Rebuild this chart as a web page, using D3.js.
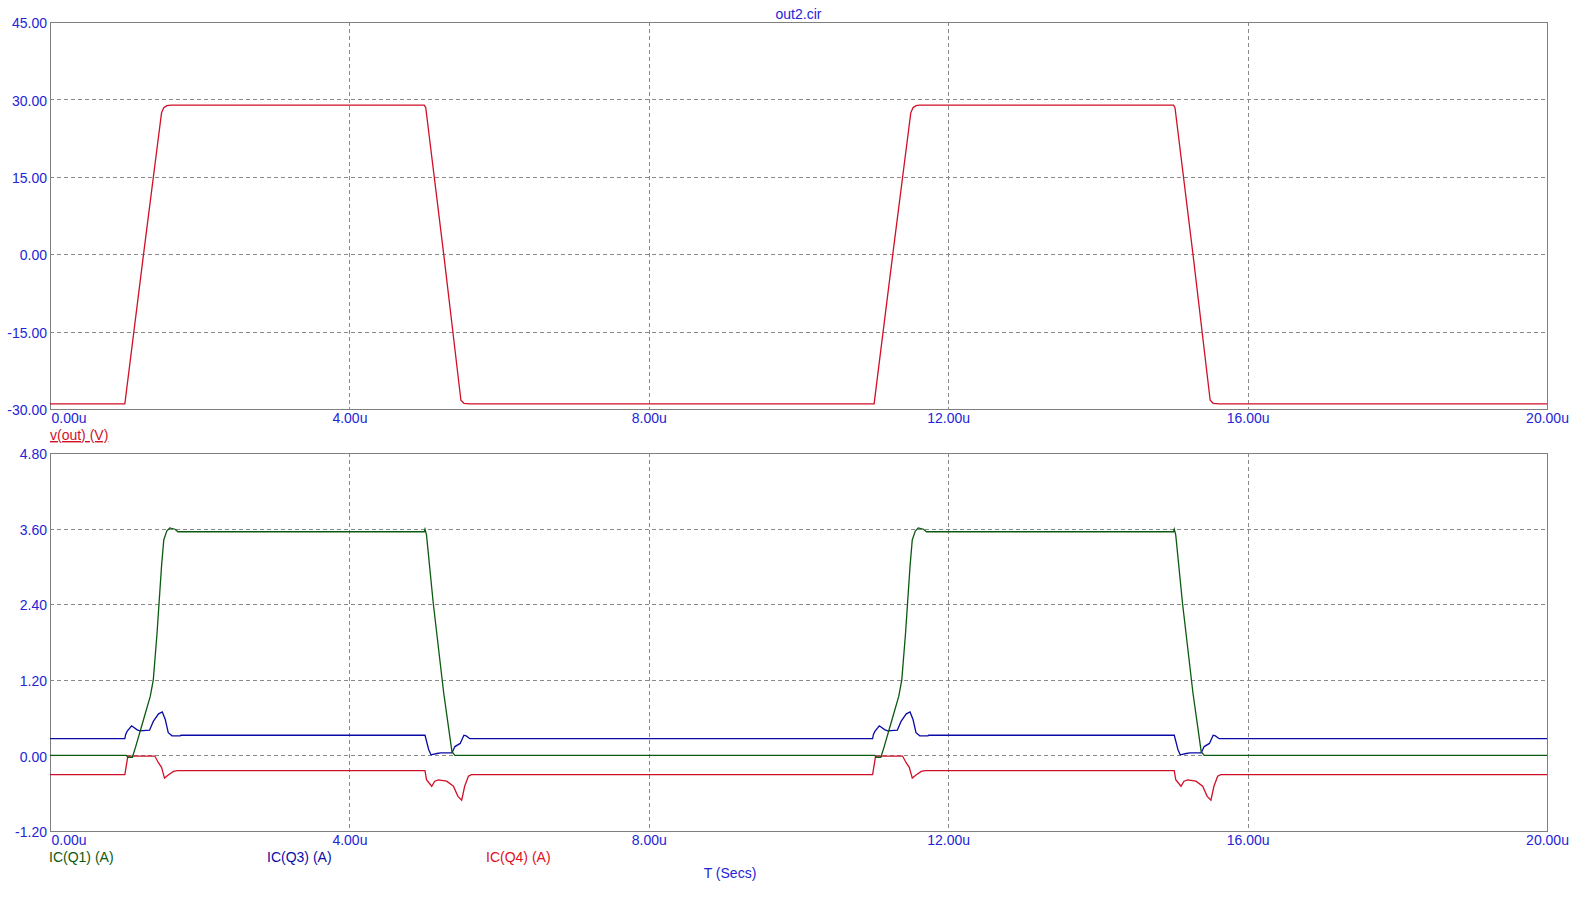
<!DOCTYPE html>
<html>
<head>
<meta charset="utf-8">
<script src="https://cdn.jsdelivr.net/npm/d3@7"></script>
<style>
  html, body { margin: 0; padding: 0; background: #fff; }
  svg { display: block; font-family: "Liberation Sans", Arial, sans-serif; }
</style>
</head>
<body>
<svg id="chart" width="1587" height="897"></svg>
<script>
// ---- data (time in µs) ----
const title = "out2.cir";
const xTickValues = [0, 4, 8, 12, 16, 20];
const topYTicks = [-30, -15, 0, 15, 30, 45];
const bottomYTicks = [-1.2, 0, 1.2, 2.4, 3.6, 4.8];
const topLabel = "v(out) (V)";
const bottomLabels = ["IC(Q1) (A)", "IC(Q3) (A)", "IC(Q4) (A)"];
const xLabel = "T (Secs)";

const voutPoints = [
  [0,-29.0],[1.00,-29.0],[1.25,0.0],[1.49,27.4],[1.52,28.4],[1.56,28.8],[1.62,28.9],
  [5.00,28.9],[5.02,28.4],[5.26,0.0],[5.49,-28.3],[5.53,-28.9],[5.61,-29.0],
  [11.01,-29.0],[11.26,0.0],[11.50,27.4],[11.53,28.4],[11.57,28.8],[11.62,28.9],
  [15.01,28.9],[15.03,28.4],[15.27,0.0],[15.50,-28.3],[15.54,-28.9],[15.62,-29.0],
  [20,-29.0]
];

const icQ1Points = [
  [0,0],[1.02,0],[1.04,-0.03],[1.10,-0.03],[1.14,0.12],[1.25,0.57],[1.34,0.94],[1.38,1.20],
  [1.43,1.94],[1.46,2.47],[1.49,3.00],[1.52,3.42],[1.56,3.56],[1.60,3.61],[1.67,3.59],[1.71,3.55],
  [5.00,3.55],[5.01,3.59],[5.03,3.50],[5.12,2.42],[5.26,0.99],[5.37,0.06],[5.41,0.0],
  [11.02,0],[11.04,-0.03],[11.10,-0.03],[11.14,0.12],[11.25,0.57],[11.34,0.94],[11.38,1.20],
  [11.43,1.94],[11.46,2.47],[11.49,3.00],[11.52,3.42],[11.56,3.56],[11.60,3.61],[11.67,3.59],[11.71,3.55],
  [15.01,3.55],[15.02,3.59],[15.04,3.50],[15.13,2.42],[15.27,0.99],[15.38,0.06],[15.42,0.0],
  [20,0]
];

const icQ3Points = [
  [0,0.265],[1.00,0.265],[1.01,0.33],[1.03,0.38],[1.09,0.47],[1.16,0.41],[1.20,0.39],[1.33,0.40],
  [1.38,0.54],[1.45,0.66],[1.50,0.69],[1.54,0.57],[1.58,0.36],[1.63,0.31],[1.74,0.31],[1.75,0.32],
  [5.01,0.32],[5.06,0.09],[5.09,0.01],[5.17,0.03],[5.22,0.04],[5.37,0.04],[5.41,0.14],[5.48,0.19],
  [5.53,0.32],[5.56,0.31],[5.61,0.265],
  [10.99,0.265],[11.00,0.33],[11.02,0.38],[11.08,0.47],[11.15,0.41],[11.19,0.39],[11.32,0.40],
  [11.37,0.54],[11.44,0.66],[11.49,0.69],[11.53,0.57],[11.57,0.36],[11.62,0.31],[11.73,0.31],[11.74,0.32],
  [15.02,0.32],[15.07,0.09],[15.10,0.01],[15.18,0.03],[15.23,0.04],[15.38,0.04],[15.42,0.14],[15.49,0.19],
  [15.54,0.32],[15.57,0.31],[15.62,0.265],
  [20,0.265]
];

const icQ4Points = [
  [0,-0.306],[1.00,-0.306],[1.04,-0.01],[1.40,-0.01],[1.45,-0.12],[1.49,-0.19],[1.53,-0.36],
  [1.58,-0.31],[1.65,-0.254],[1.70,-0.243],
  [5.01,-0.243],[5.03,-0.386],[5.10,-0.49],[5.14,-0.41],[5.19,-0.39],[5.30,-0.41],[5.39,-0.49],
  [5.45,-0.65],[5.50,-0.71],[5.54,-0.49],[5.59,-0.33],[5.63,-0.306],
  [10.99,-0.306],[11.03,-0.01],[11.39,-0.01],[11.44,-0.12],[11.48,-0.19],[11.52,-0.36],
  [11.57,-0.31],[11.64,-0.254],[11.69,-0.243],
  [15.02,-0.243],[15.04,-0.386],[15.11,-0.49],[15.15,-0.41],[15.20,-0.39],[15.31,-0.41],[15.40,-0.49],
  [15.46,-0.65],[15.51,-0.71],[15.55,-0.49],[15.60,-0.33],[15.64,-0.306],
  [20,-0.306]
];

// ---- styles / layout ----
const textBlue = "#2424d6";
const gridColor = "#8a8a8a";
const borderColor = "#7f7f7f";
const colQ1 = "#0b5a10";
const colQ3 = "#0a0aa8";
const colQ4 = "#d01028";
const colVout = "#d01028";
const fontSize = 14;

const left = 50, right = 1547;
const topPanel = { top: 22, bottom: 409 };
const botPanel = { top: 453, bottom: 831 };

const svg = d3.select("#chart");
const fmt2 = d => d.toFixed(2);

const x = d3.scaleLinear().domain([0, 20]).range([left, right]);
const yTop = d3.scaleLinear().domain([-30, 45]).range([topPanel.bottom, topPanel.top]);
const yBot = d3.scaleLinear().domain([-1.2, 4.8]).range([botPanel.bottom, botPanel.top]);

function drawPanel(panel, y, yTicks, id) {
  const g = svg.append("g");
  svg.append("clipPath").attr("id", id)
    .append("rect").attr("x", left).attr("y", panel.top)
    .attr("width", right - left).attr("height", panel.bottom - panel.top);

  g.selectAll(".hg").data(yTicks.slice(1, -1)).enter().append("line")
    .attr("x1", left).attr("x2", right)
    .attr("y1", d => Math.round(y(d)) + 0.5).attr("y2", d => Math.round(y(d)) + 0.5)
    .attr("stroke", gridColor).attr("stroke-width", 1).attr("stroke-dasharray", "4,3");
  g.selectAll(".vg").data(xTickValues.slice(1, -1)).enter().append("line")
    .attr("y1", panel.top).attr("y2", panel.bottom)
    .attr("x1", d => Math.round(x(d)) + 0.5).attr("x2", d => Math.round(x(d)) + 0.5)
    .attr("stroke", gridColor).attr("stroke-width", 1).attr("stroke-dasharray", "4,3");
  g.append("rect").attr("x", left + 0.5).attr("y", panel.top + 0.5)
    .attr("width", right - left).attr("height", panel.bottom - panel.top)
    .attr("fill", "none").attr("stroke", borderColor).attr("stroke-width", 1);

  const ya = d3.axisLeft(y).tickValues(yTicks).tickSize(0).tickPadding(3)
    .tickFormat(fmt2);
  const yg = svg.append("g").attr("transform", `translate(${left},0)`).call(ya);
  yg.select(".domain").remove();
  yg.selectAll("text").attr("fill", textBlue).attr("font-size", fontSize)
    .attr("font-family", "Liberation Sans, Arial, sans-serif").attr("dy", "0.4em");

  const xa = d3.axisBottom(x).tickValues(xTickValues).tickSize(0).tickPadding(4)
    .tickFormat(d => fmt2(d) + "u");
  const xg = svg.append("g").attr("transform", `translate(0,${panel.bottom})`).call(xa);
  xg.select(".domain").remove();
  xg.selectAll("text").attr("fill", textBlue).attr("font-size", fontSize)
    .attr("font-family", "Liberation Sans, Arial, sans-serif").attr("dy", "0.71em");
  xg.selectAll(".tick").filter(d => d === 0).select("text")
    .attr("text-anchor", "start").attr("x", 1);
  return g;
}

drawPanel(topPanel, yTop, topYTicks, "clipTop");
drawPanel(botPanel, yBot, bottomYTicks, "clipBot");

svg.append("text").attr("x", (left + right) / 2).attr("y", 19)
  .attr("text-anchor", "middle").attr("fill", textBlue).attr("font-size", fontSize)
  .text(title);

const lineTop = d3.line().x(d => x(d[0])).y(d => yTop(d[1]));
const lineBot = d3.line().x(d => x(d[0])).y(d => yBot(d[1]));

svg.append("path").datum(voutPoints).attr("d", lineTop)
  .attr("clip-path", "url(#clipTop)")
  .attr("fill", "none").attr("stroke", colVout).attr("stroke-width", 1.3);

const botSeries = [
  { pts: icQ3Points, color: colQ3 },
  { pts: icQ4Points, color: colQ4 },
  { pts: icQ1Points, color: colQ1 }
];
botSeries.forEach(s => {
  svg.append("path").datum(s.pts).attr("d", lineBot)
    .attr("clip-path", "url(#clipBot)")
    .attr("fill", "none").attr("stroke", s.color).attr("stroke-width", 1.3);
});

svg.append("text").attr("x", left).attr("y", 440)
  .attr("fill", colVout).attr("font-size", fontSize)
  .attr("text-decoration", "underline").text(topLabel);

const legendX = [49, 267, 486];
const legendCol = [colQ1, colQ3, "#e01020"];
bottomLabels.forEach((t, i) => {
  svg.append("text").attr("x", legendX[i]).attr("y", 862)
    .attr("fill", legendCol[i]).attr("font-size", fontSize).text(t);
});

svg.append("text").attr("x", 730).attr("y", 878)
  .attr("text-anchor", "middle").attr("fill", textBlue).attr("font-size", fontSize)
  .text(xLabel);
</script>
</body>
</html>
